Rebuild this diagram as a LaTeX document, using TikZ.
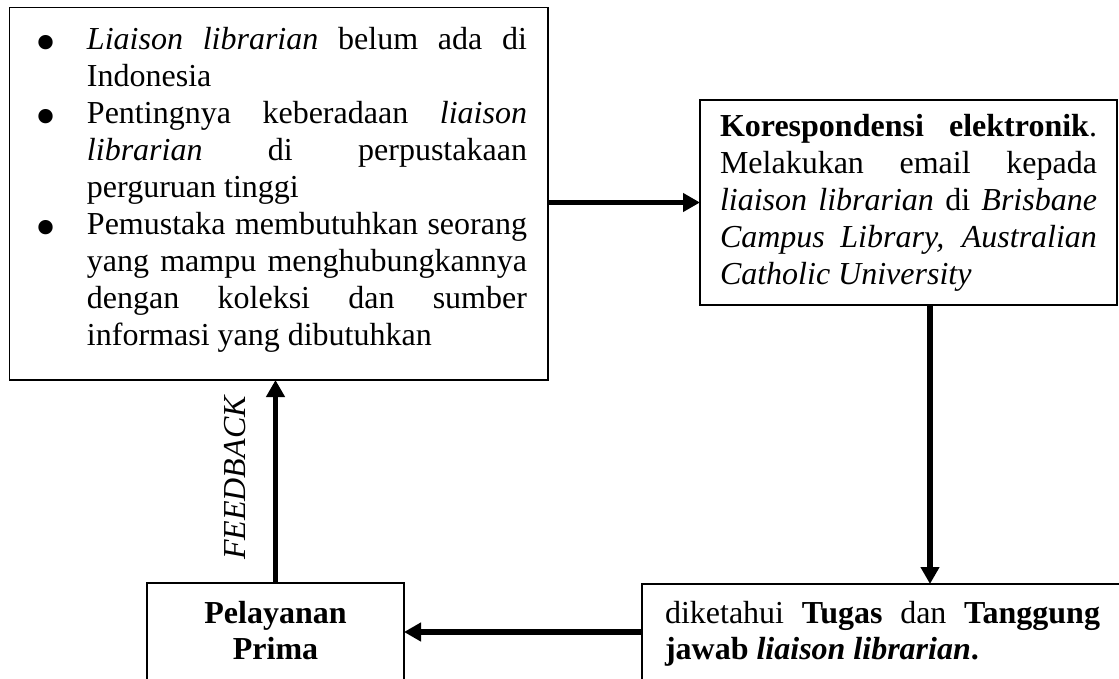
\documentclass[tikz,border=0pt]{standalone}
\usepackage{fontspec}
\setmainfont{Liberation Serif}
\usetikzlibrary{arrows.meta}
\newcommand{\bul}{\makebox[82pt][c]{\raisebox{-13pt}[0pt][0pt]{\fontsize{60}{60}\selectfont\textbullet}}}
\newcommand{\jl}[2]{\makebox[#1][s]{#2}}
\begin{document}
\begin{tikzpicture}[x=1pt,y=-1pt,
  box/.style={draw, line width=1.6pt, inner sep=0pt, outer sep=0pt},
  txt/.style={anchor=base west, inner sep=0pt, outer sep=0pt, font=\fontsize{32}{36.9}\selectfont},
  flow/.style={line width=5.5pt, -{Triangle[length=17pt,width=18pt]}}]
\useasboundingbox (0,0) rectangle (1119,679);
\clip (0,0) rectangle (1119,679);
% boxes
\node[box, minimum width=538.5pt, minimum height=372.5pt] (A) at (278.75,193.75) {};
\node[box, minimum width=417pt, minimum height=205pt] (B) at (908.5,202.5) {};
\node[box, minimum width=488pt, minimum height=116pt] (C) at (886,642) {};
\node[box, minimum width=257pt, minimum height=117pt] (D) at (275.5,641.5) {};
% texts
\node[txt] (ta) at (5,50) {\vtop{\baselineskip=36.9pt\lineskiplimit=-100pt\lineskip=0pt
  \hbox{\bul\jl{440pt}{\textit{Liaison librarian} belum ada di}}
  \hbox{\hspace*{82pt}Indonesia}
  \hbox{\bul\jl{440pt}{Pentingnya keberadaan \textit{liaison}}}
  \hbox{\hspace*{82pt}\jl{440pt}{\textit{librarian} di perpustakaan}}
  \hbox{\hspace*{82pt}perguruan tinggi}
  \hbox{\bul\jl{440pt}{Pemustaka membutuhkan seorang}}
  \hbox{\hspace*{82pt}\jl{440pt}{yang mampu menghubungkannya}}
  \hbox{\hspace*{82pt}\jl{440pt}{dengan koleksi dan sumber}}
  \hbox{\hspace*{82pt}informasi yang dibutuhkan}}};
\node[txt] (tb) at (720,137) {\vtop{\baselineskip=36.9pt\lineskiplimit=-100pt\lineskip=0pt
  \hbox{\jl{377pt}{\textbf{Korespondensi elektronik}.}}
  \hbox{\jl{377pt}{Melakukan email kepada}}
  \hbox{\jl{377pt}{\textit{liaison librarian} di \textit{Brisbane}}}
  \hbox{\jl{377pt}{\textit{Campus Library, Australian}}}
  \hbox{\textit{Catholic University}}}};
\node[txt] (tc) at (665,623) {\vtop{\baselineskip=36.9pt\lineskiplimit=-100pt\lineskip=0pt
  \hbox{\jl{435pt}{diketahui \textbf{Tugas} dan \textbf{Tanggung}}}
  \hbox{\textbf{jawab \textit{liaison librarian}.}}}};
\node[txt, anchor=base] (td) at (275.5,623) {\vtop{\baselineskip=36.9pt\lineskiplimit=-100pt\lineskip=0pt
  \hbox to 200pt{\hss\textbf{Pelayanan}\hss}
  \hbox to 200pt{\hss\textbf{Prima}\hss}}};
\node[rotate=90, inner sep=0pt, font=\fontsize{32}{36.9}\selectfont\itshape] (fb) at (235.5,478) {FEEDBACK};
% connectors
\draw[flow] (A.east |- B.west) -- (B.west);
\draw[flow] ([xshift=21.5pt]B.south) -- ([xshift=21.5pt]B.south |- C.north);
\draw[flow] ([yshift=10pt]C.west) -- ([yshift=10pt]C.west -| D.east);
\draw[flow] (D.north) -- (D.north |- A.south);
\end{tikzpicture}
\end{document}
